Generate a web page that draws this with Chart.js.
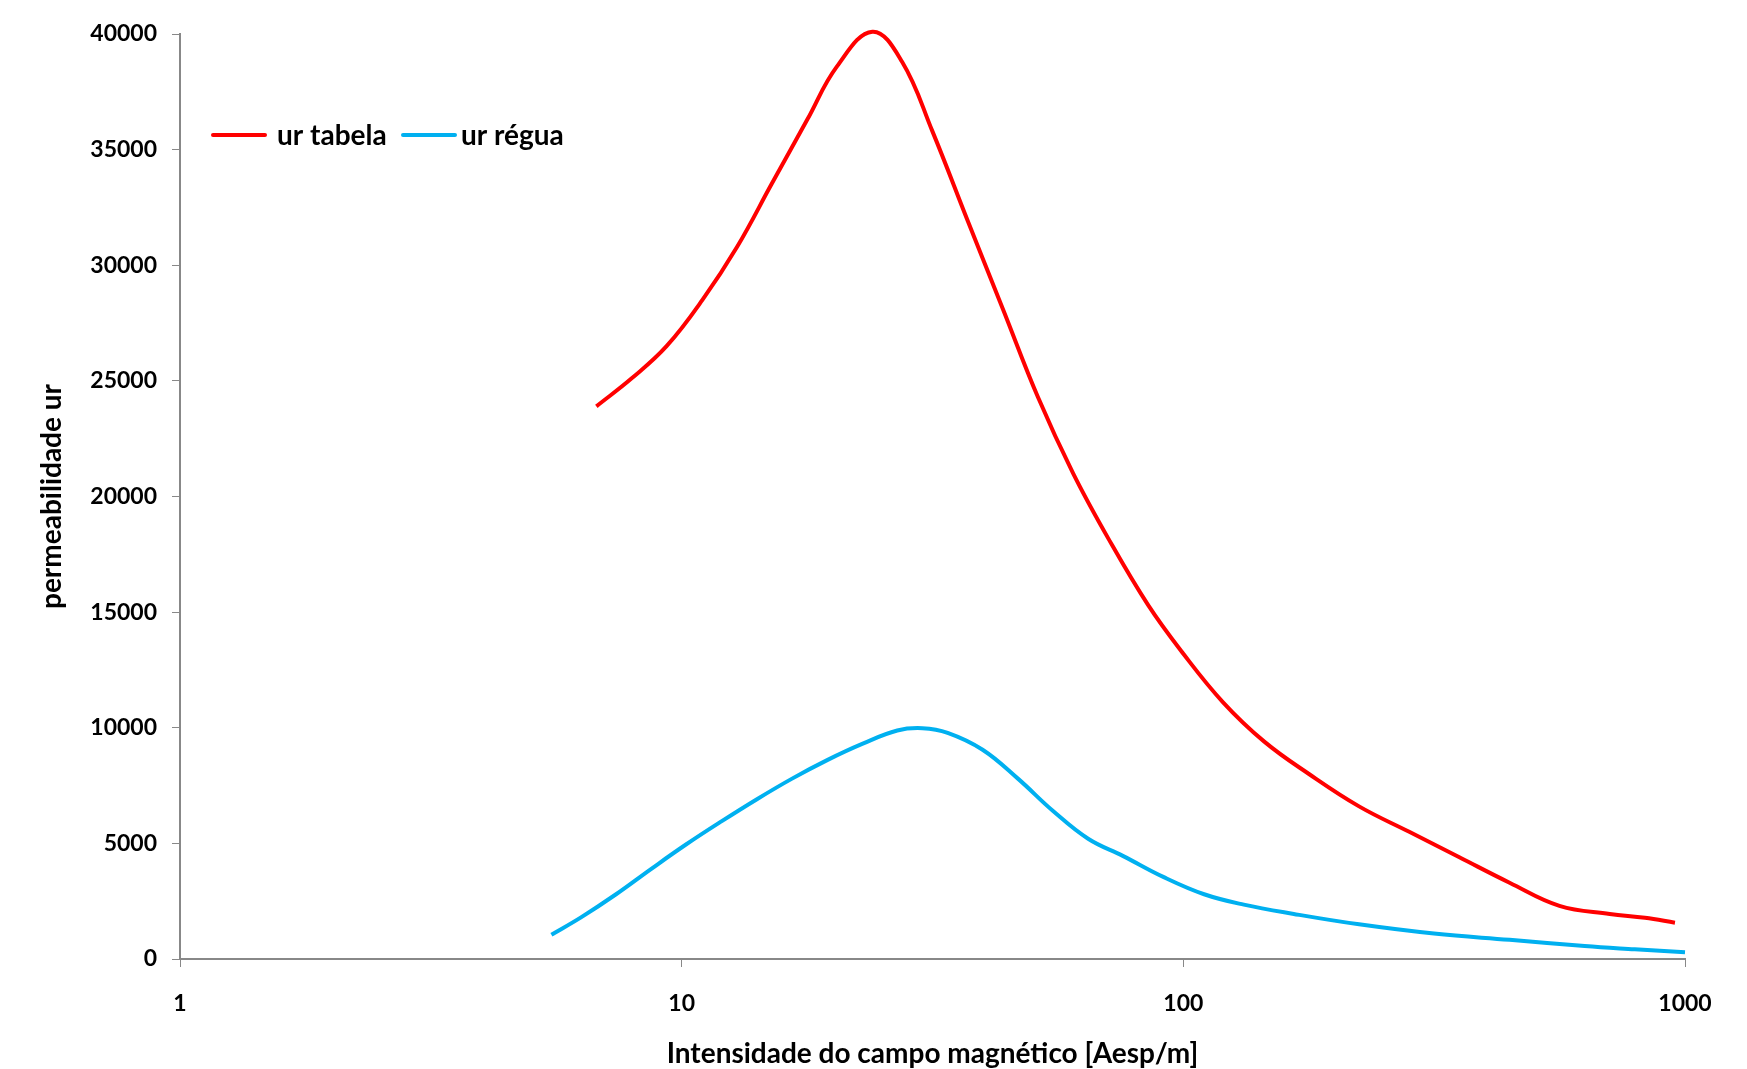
<!DOCTYPE html>
<html>
<head>
<meta charset="utf-8">
<script src="https://cdn.jsdelivr.net/npm/chart.js@4"></script>
<style>
    body { margin: 0; background: #fff; }
    #wrap { width: 1747px; height: 1069px; }
</style>
</head>
<body>
<div id="wrap"><canvas id="muChart" width="1747" height="1069"></canvas></div>
<script>
// values (H in Aesp/m, relative permeability)
const hTabela = [6.76, 7.94, 9.33, 11.0, 12.9, 15.1, 17.8, 20.4, 24.0, 27.5, 31.6, 37.2, 43.7, 51.3, 60.3, 70.8, 85.1, 100, 120, 145, 178, 224, 282, 355, 447, 562, 708, 832, 955];
const urTabela = [23900, 25100, 26500, 28500, 30800, 33500, 36300, 38600, 40100, 38800, 35800, 31900, 28100, 24300, 21000, 18200, 15300, 13200, 11100, 9400, 8000, 6600, 5500, 4400, 3300, 2300, 1950, 1780, 1570];

const hRegua = [5.5, 6.3, 7.4, 8.7, 10.2, 12.0, 14.1, 16.6, 19.5, 22.9, 26.9, 30.2, 33.9, 39.8, 46.8, 55.0, 64.6, 75.9, 91.2, 110, 132, 166, 224, 316, 447, 631, 794, 1000];
const urRegua = [1050, 1800, 2800, 3900, 4950, 5950, 6900, 7800, 8600, 9300, 9880, 9980, 9780, 9050, 7800, 6400, 5200, 4450, 3550, 2800, 2350, 1950, 1500, 1100, 830, 560, 420, 290];

const xTicks = [1, 10, 100, 1000];
const yTicks = [0, 5000, 10000, 15000, 20000, 25000, 30000, 35000, 40000];

const fontFam = 'Lato, "Open Sans", sans-serif';
const axisGray = '#888888';

function toPoints(xs, ys) {
    return xs.map((x, i) => ({ x: x, y: ys[i] }));
}

// legend drawn inside the plot, top left, like the original
const legendPlugin = {
    id: 'insideLegend',
    afterDraw(chart) {
        const ctx = chart.ctx;
        const items = [
            { x: 213, tx: 277, ds: chart.data.datasets[0] },
            { x: 403, tx: 461, ds: chart.data.datasets[1] }
        ];
        const y = 135;
        ctx.save();
        ctx.font = 'bold 28px ' + fontFam;
        ctx.textBaseline = 'middle';
        ctx.fillStyle = '#000';
        items.forEach(it => {
            ctx.strokeStyle = it.ds.borderColor;
            ctx.lineWidth = 4;
            ctx.lineCap = 'round';
            ctx.beginPath();
            ctx.moveTo(it.x, y);
            ctx.lineTo(it.x + 52, y);
            ctx.stroke();
            ctx.fillText(it.ds.label, it.tx, y + 1);
        });
        ctx.restore();
    }
};

const ctx = document.getElementById('muChart').getContext('2d');
const muChart = new Chart(ctx, {
    type: 'line',
    data: {
        datasets: [{
            label: 'ur tabela',
            data: toPoints(hTabela, urTabela),
            borderColor: '#FF0000',
            borderWidth: 4,
            pointRadius: 0,
            tension: 0.4,
            clip: false,
            fill: false
        }, {
            label: 'ur régua',
            data: toPoints(hRegua, urRegua),
            borderColor: '#00B0F0',
            borderWidth: 4,
            pointRadius: 0,
            tension: 0.4,
            clip: false,
            fill: false
        }]
    },
    options: {
        responsive: false,
        animation: false,
        layout: { padding: { top: 34, right: 62, bottom: 0, left: 0 } },
        plugins: {
            legend: { display: false },
            tooltip: { enabled: false }
        },
        scales: {
            x: {
                type: 'logarithmic',
                min: 1,
                max: 1000,
                afterBuildTicks: (scale) => {
                    scale.ticks = xTicks.map(v => ({ value: v }));
                },
                afterFit: (scale) => { scale.height = 110; },
                grid: { drawOnChartArea: false, color: axisGray, tickLength: 8 },
                border: { color: axisGray, width: 2 },
                ticks: {
                    color: '#000',
                    padding: 23,
                    maxRotation: 0,
                    font: { family: fontFam, size: 23, weight: 'bold' },
                    callback: (v) => String(v)
                },
                title: {
                    display: true,
                    text: 'Intensidade do campo magnético [Aesp/m]',
                    color: '#000',
                    padding: { top: 0, bottom: -2 },
                    font: { family: fontFam, size: 28, weight: 'bold' }
                }
            },
            y: {
                min: 0,
                max: 40000,
                afterBuildTicks: (scale) => {
                    scale.ticks = yTicks.map(v => ({ value: v }));
                },
                afterFit: (scale) => { scale.width = 180; },
                grid: { drawOnChartArea: false, color: axisGray, tickLength: 8 },
                border: { color: axisGray, width: 2 },
                ticks: {
                    color: '#000',
                    padding: 15,
                    font: { family: fontFam, size: 23, weight: 'bold' },
                    callback: (v) => String(v)
                },
                title: {
                    display: true,
                    text: 'permeabilidade ur',
                    color: '#000',
                    padding: { top: 35, bottom: 0 },
                    font: { family: fontFam, size: 28, weight: 'bold' }
                }
            }
        }
    },
    plugins: [legendPlugin]
});
</script>
</body>
</html>
